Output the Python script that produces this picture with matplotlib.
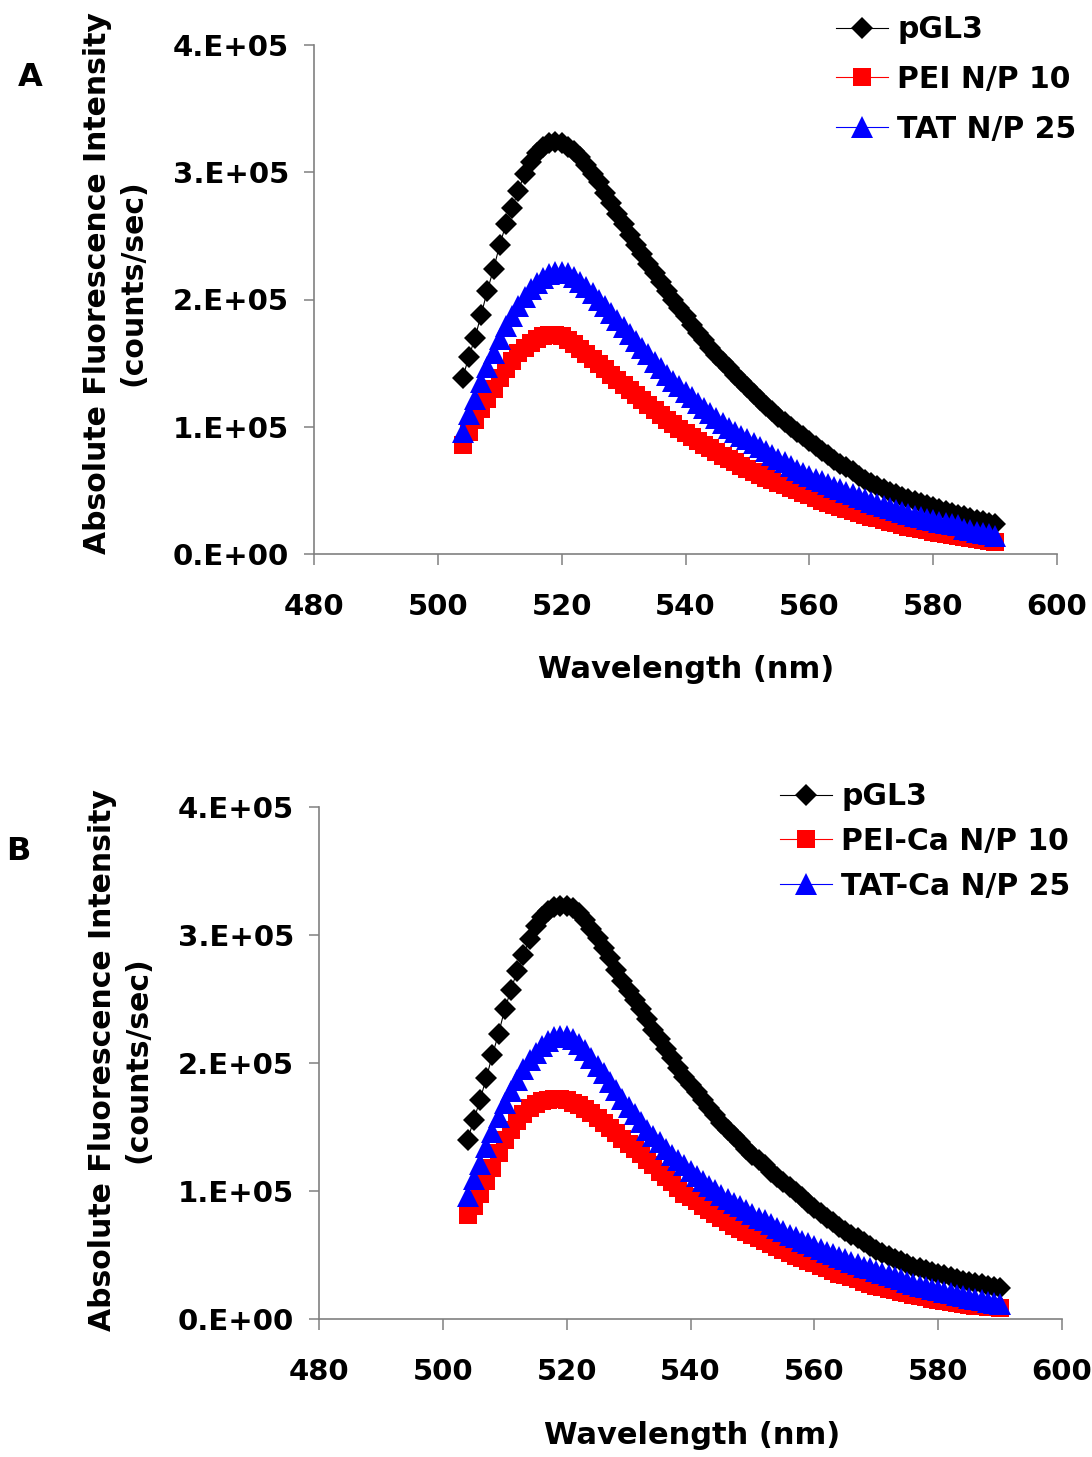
import numpy as np
import matplotlib
matplotlib.use("Agg")
import matplotlib.pyplot as plt

# Wavelength grid (nm)
wavelength = list(range(504, 591))

# Panel A intensities (x 1E5 counts/sec)
a_pgl3 = [1.385, 1.545, 1.70, 1.88, 2.07, 2.24, 2.43, 2.59, 2.72, 2.855,
          2.99, 3.08, 3.15, 3.20, 3.23, 3.24, 3.23, 3.20, 3.17, 3.12,
          3.06, 2.99, 2.92, 2.84, 2.76, 2.67, 2.59, 2.51, 2.43, 2.36,
          2.28, 2.21, 2.14, 2.07, 2.00, 1.93, 1.87, 1.80, 1.74, 1.68,
          1.62, 1.56, 1.51, 1.46, 1.41, 1.36, 1.31, 1.26, 1.21, 1.16,
          1.12, 1.08, 1.04, 1.00, 0.96, 0.925, 0.89, 0.85, 0.81, 0.775,
          0.74, 0.71, 0.68, 0.65, 0.615, 0.585, 0.56, 0.535, 0.51, 0.49,
          0.47, 0.45, 0.43, 0.415, 0.40, 0.385, 0.37, 0.355, 0.34, 0.325,
          0.31, 0.30, 0.285, 0.27, 0.26, 0.245, 0.235]
a_pei = [0.86, 0.96, 1.05, 1.14, 1.22, 1.30, 1.38, 1.45, 1.52, 1.58,
         1.62, 1.66, 1.69, 1.71, 1.72, 1.72, 1.71, 1.68, 1.65, 1.61,
         1.57, 1.53, 1.49, 1.45, 1.41, 1.37, 1.33, 1.29, 1.25, 1.21,
         1.17, 1.13, 1.09, 1.05, 1.02, 0.98, 0.95, 0.92, 0.89, 0.86,
         0.83, 0.80, 0.77, 0.745, 0.72, 0.695, 0.67, 0.645, 0.62, 0.60,
         0.58, 0.56, 0.54, 0.52, 0.50, 0.48, 0.46, 0.44, 0.42, 0.40,
         0.385, 0.37, 0.35, 0.335, 0.32, 0.305, 0.29, 0.28, 0.265, 0.25,
         0.24, 0.23, 0.215, 0.205, 0.195, 0.185, 0.175, 0.165, 0.155, 0.15,
         0.14, 0.13, 0.125, 0.115, 0.11, 0.10, 0.095]
a_tat = [0.96, 1.10, 1.22, 1.35, 1.47, 1.58, 1.69, 1.79, 1.87, 1.95,
         2.02, 2.08, 2.13, 2.17, 2.20, 2.22, 2.22, 2.21, 2.18, 2.14,
         2.10, 2.05, 2.00, 1.95, 1.89, 1.84, 1.78, 1.73, 1.67, 1.62,
         1.57, 1.51, 1.46, 1.41, 1.36, 1.32, 1.27, 1.23, 1.19, 1.15,
         1.11, 1.07, 1.03, 0.99, 0.96, 0.93, 0.90, 0.87, 0.84, 0.81,
         0.78, 0.75, 0.72, 0.69, 0.66, 0.635, 0.61, 0.59, 0.57, 0.55,
         0.53, 0.51, 0.49, 0.47, 0.45, 0.43, 0.41, 0.39, 0.375, 0.36,
         0.345, 0.33, 0.315, 0.30, 0.29, 0.275, 0.265, 0.255, 0.245, 0.235,
         0.225, 0.20, 0.19, 0.175, 0.165, 0.155, 0.145]

# Panel B intensities (x 1E5 counts/sec)
b_pgl3 = [1.40, 1.555, 1.71, 1.88, 2.06, 2.23, 2.42, 2.57, 2.72, 2.84,
          2.97, 3.07, 3.14, 3.19, 3.22, 3.23, 3.23, 3.21, 3.17, 3.12,
          3.05, 2.98, 2.90, 2.82, 2.73, 2.64, 2.56, 2.49, 2.42, 2.34,
          2.26, 2.19, 2.11, 2.04, 1.96, 1.89, 1.83, 1.77, 1.71, 1.65,
          1.59, 1.53, 1.48, 1.43, 1.38, 1.33, 1.28, 1.24, 1.20, 1.15,
          1.11, 1.07, 1.03, 0.99, 0.95, 0.91, 0.87, 0.83, 0.79, 0.76,
          0.72, 0.69, 0.66, 0.63, 0.60, 0.57, 0.54, 0.515, 0.49, 0.47,
          0.45, 0.43, 0.41, 0.395, 0.38, 0.365, 0.35, 0.34, 0.325, 0.315,
          0.30, 0.29, 0.28, 0.27, 0.26, 0.25, 0.24]
b_pei = [0.81, 0.88, 0.98, 1.08, 1.18, 1.30, 1.40, 1.48, 1.55, 1.60,
         1.65, 1.68, 1.70, 1.71, 1.72, 1.72, 1.71, 1.69, 1.67, 1.64,
         1.61, 1.57, 1.53, 1.49, 1.45, 1.41, 1.37, 1.33, 1.29, 1.24,
         1.20, 1.15, 1.11, 1.07, 1.02, 0.98, 0.95, 0.92, 0.88, 0.85,
         0.82, 0.79, 0.76, 0.73, 0.70, 0.68, 0.655, 0.63, 0.61, 0.585,
         0.56, 0.54, 0.515, 0.495, 0.475, 0.455, 0.435, 0.415, 0.395, 0.375,
         0.355, 0.34, 0.325, 0.31, 0.29, 0.275, 0.26, 0.25, 0.235, 0.225,
         0.21, 0.20, 0.19, 0.18, 0.17, 0.16, 0.15, 0.14, 0.135, 0.125,
         0.12, 0.11, 0.105, 0.10, 0.095, 0.09, 0.085]
b_tat = [0.96, 1.09, 1.21, 1.34, 1.46, 1.58, 1.69, 1.78, 1.87, 1.95,
         2.02, 2.08, 2.13, 2.17, 2.20, 2.21, 2.21, 2.19, 2.15, 2.10,
         2.04, 1.98, 1.92, 1.85, 1.79, 1.72, 1.66, 1.60, 1.54, 1.48,
         1.43, 1.38, 1.33, 1.28, 1.24, 1.20, 1.16, 1.12, 1.08, 1.04,
         1.01, 0.97, 0.94, 0.91, 0.88, 0.85, 0.82, 0.79, 0.77, 0.74,
         0.71, 0.69, 0.66, 0.64, 0.61, 0.59, 0.57, 0.55, 0.525, 0.505,
         0.485, 0.465, 0.445, 0.43, 0.41, 0.395, 0.375, 0.36, 0.345, 0.33,
         0.315, 0.29, 0.275, 0.26, 0.25, 0.235, 0.225, 0.21, 0.20, 0.19,
         0.18, 0.165, 0.155, 0.145, 0.135, 0.125, 0.115]

labels_a = ["pGL3", "PEI N/P 10", "TAT N/P 25"]
labels_b = ["pGL3", "PEI-Ca N/P 10", "TAT-Ca N/P 25"]

plt.rcParams["font.family"] = "DejaVu Sans"
plt.rcParams["font.weight"] = "bold"

W, H = 1092, 1457
fig = plt.figure(figsize=(W / 100, H / 100), dpi=100)

styles = [
    dict(color="black", marker="D", ms=11.5),
    dict(color="red", marker="s", ms=12.5),
    dict(color="blue", marker="^", ms=16),
]
spine_col = "#808080"


def panel(rect, series, labels, letter, letter_xy, leg_xy, leg_spacing,
          ylab_xy, xlab_xy):
    ax = fig.add_axes(rect)
    x = np.array(wavelength)
    for vals, st, lab in zip(series, styles, labels):
        ax.plot(x, np.array(vals) * 1e5, color=st["color"], lw=0.8,
                marker=st["marker"], ms=st["ms"], mec=st["color"],
                mfc=st["color"], mew=0, label=lab)
    ax.set_xlim(480, 600)
    ax.set_ylim(0, 4e5)
    ax.set_xticks([480, 500, 520, 540, 560, 580, 600])
    ax.set_yticks([0, 1e5, 2e5, 3e5, 4e5])
    ax.set_yticklabels(["0.E+00", "1.E+05", "2.E+05", "3.E+05", "4.E+05"])
    for s in ["top", "right"]:
        ax.spines[s].set_visible(False)
    for s in ["left", "bottom"]:
        ax.spines[s].set_color(spine_col)
        ax.spines[s].set_linewidth(1.2)
    ax.tick_params(axis="x", direction="out", length=8, width=1.1,
                   color=spine_col, pad=20, labelsize=21)
    ax.tick_params(axis="y", direction="out", length=7, width=1.1,
                   color=spine_col, pad=11, labelsize=21)
    for t in ax.get_xticklabels() + ax.get_yticklabels():
        t.set_fontweight("bold")

    fig.text(ylab_xy[0] / W, 1 - ylab_xy[1] / H,
             "Absolute Fluorescence Intensity\n(counts/sec)",
             rotation=90, ha="center", va="center", multialignment="center",
             fontsize=21.5, fontweight="bold", linespacing=1.3)
    fig.text(xlab_xy[0] / W, 1 - xlab_xy[1] / H, "Wavelength (nm)",
             ha="center", va="center", fontsize=22, fontweight="bold")
    fig.text(letter_xy[0] / W, 1 - letter_xy[1] / H, letter,
             ha="center", va="center", fontsize=23, fontweight="bold")

    leg = ax.legend(loc="upper left", bbox_to_anchor=(leg_xy[0] / W, 1 - leg_xy[1] / H),
                    bbox_transform=fig.transFigure, frameon=False,
                    fontsize=21.5, borderpad=0, borderaxespad=0,
                    handlelength=1.75, handletextpad=0.3,
                    labelspacing=leg_spacing)
    for t in leg.get_texts():
        t.set_fontweight("bold")
    return ax


panel([314 / W, 1 - 554 / H, 743 / W, 509 / H],
      [a_pgl3, a_pei, a_tat], labels_a, "A", (30, 78), (836, 15), 0.7,
      (115, 283), (686, 670))
panel([319 / W, 1 - 1319 / H, 743 / W, 512 / H],
      [b_pgl3, b_pei, b_tat], labels_b, "B", (18, 852), (780, 782), 0.53,
      (120, 1060), (692, 1435))

fig.savefig("out.png", dpi=100)
